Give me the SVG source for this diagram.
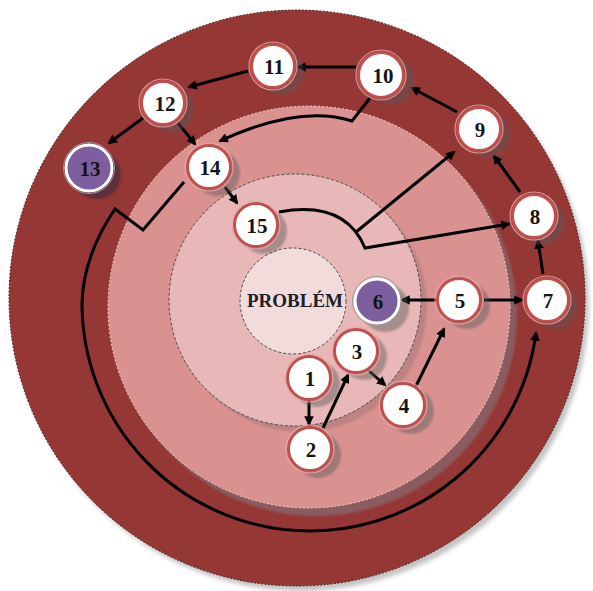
<svg xmlns="http://www.w3.org/2000/svg" width="593" height="591" viewBox="0 0 593 591">
<style>
.shadow{fill:#5a5a5a;opacity:.45}
.body{fill:#ffffff;stroke:#c0504d;stroke-width:3}
.glow{fill:none;stroke:#e9a9a7;stroke-width:1.2;opacity:.8}
.pbody{fill:#7d5fa0;stroke:#ffffff;stroke-width:3}
.pglow{fill:none;stroke:#9a9a9a;stroke-width:1}
.num{font-family:"Liberation Serif","Times New Roman",serif;font-weight:bold;font-size:21px;text-anchor:middle;fill:#141414}
.conn{stroke:#000;stroke-width:3;fill:none;stroke-linejoin:miter}
.arr{marker-end:url(#ah)}
</style>
<defs>
<marker id="ah" viewBox="0 0 10 10" refX="8" refY="5" markerWidth="3.4" markerHeight="3.2" orient="auto" markerUnits="strokeWidth">
<path d="M0,0 L10,5 L0,10 z" fill="#000"/>
</marker>
<filter id="soft" x="-20%" y="-20%" width="140%" height="140%"><feGaussianBlur stdDeviation="2"/></filter>
<filter id="soft2" x="-20%" y="-20%" width="140%" height="140%"><feGaussianBlur stdDeviation="1.2"/></filter>
</defs>

<g id="background">
<circle cx="301" cy="303" r="288" fill="#c4c4c4" filter="url(#soft)"/>
<circle cx="297" cy="298" r="288" fill="#953735" stroke="#4a1c1b" stroke-width="1" stroke-dasharray="2 1.5"/>
<circle cx="316" cy="315" r="201" fill="#8a5c5e" filter="url(#soft2)"/>
<circle cx="309" cy="307" r="201" fill="#d99290" stroke="#f3cfcf" stroke-width="1" stroke-dasharray="2 2"/>
<circle cx="301" cy="306" r="126" fill="#a77678" opacity=".55" filter="url(#soft2)"/>
<circle cx="295" cy="300" r="126" fill="#e8b7b7" stroke="#4d4d4d" stroke-width="1" stroke-dasharray="3 2"/>
<circle cx="293" cy="301" r="53" fill="#f2dbdb" stroke="#4d4d4d" stroke-width="1" stroke-dasharray="3 2"/>
<text x="295" y="307" font-family="'Liberation Serif','Times New Roman',serif" font-weight="bold" font-size="19" text-anchor="middle" fill="#1e1e28">PROBLÉM</text>
</g>

<g id="connectors">
<path class="conn arr" d="M309,401 L309,424"/>
<path class="conn arr" d="M323,428 L348,375"/>
<path class="conn arr" d="M368,370 L385,385"/>
<path class="conn arr" d="M416,386 L444,329"/>
<path class="conn arr" d="M436,300 L402,300"/>
<path class="conn arr" d="M484,300 L522,300"/>
<path class="conn arr" d="M543,274 L538,241"/>
<path class="conn arr" d="M520,192 L494,156"/>
<path class="conn arr" d="M457,112 L412,88"/>
<path class="conn arr" d="M356,67 L298,67"/>
<path class="conn arr" d="M248,71 L189,87"/>
<path class="conn arr" d="M143,118 L109,143"/>
<path class="conn arr" d="M178,123 L195,144"/>
<path class="conn arr" d="M225,187 L237,203"/>
<path class="conn arr" d="M370,98 L352,121 Q300,104 220,141"/>
<path class="conn arr" d="M184,182 L143,230 L115,209 C97,235 82,270 82,305 A228,228 0 0 0 536,333"/>
<path class="conn arr" d="M279,212 Q345,200 365,248 L509,224"/>
<path class="conn arr" d="M356,232 L454,152"/>
</g>

<g id="node1"><circle class="shadow" cx="317" cy="384" r="23" filter="url(#soft2)"/><circle class="body" cx="309" cy="378" r="21.5"/><circle class="glow" cx="309" cy="378" r="24"/><text class="num" x="310" y="386">1</text></g>
<g id="node2"><circle class="shadow" cx="318" cy="455" r="23" filter="url(#soft2)"/><circle class="body" cx="310" cy="449" r="21.5"/><circle class="glow" cx="310" cy="449" r="24"/><text class="num" x="311" y="457">2</text></g>
<g id="node3"><circle class="shadow" cx="364" cy="357" r="23" filter="url(#soft2)"/><circle class="body" cx="356" cy="351" r="21.5"/><circle class="glow" cx="356" cy="351" r="24"/><text class="num" x="357" y="359">3</text></g>
<g id="node4"><circle class="shadow" cx="411" cy="411" r="23" filter="url(#soft2)"/><circle class="body" cx="403" cy="405" r="21.5"/><circle class="glow" cx="403" cy="405" r="24"/><text class="num" x="404" y="413">4</text></g>
<g id="node5"><circle class="shadow" cx="467" cy="306" r="23" filter="url(#soft2)"/><circle class="body" cx="459" cy="300" r="21.5"/><circle class="glow" cx="459" cy="300" r="24"/><text class="num" x="460" y="308">5</text></g>
<g id="node6"><circle class="shadow" cx="385" cy="308" r="24" filter="url(#soft2)"/><circle class="pbody" cx="377" cy="301" r="22"/><circle class="pglow" cx="377" cy="301" r="24.5"/><text class="num" x="378" y="309">6</text></g>
<g id="node7"><circle class="shadow" cx="555" cy="306" r="23" filter="url(#soft2)"/><circle class="body" cx="547" cy="300" r="21.5"/><circle class="glow" cx="547" cy="300" r="24"/><text class="num" x="548" y="308">7</text></g>
<g id="node8"><circle class="shadow" cx="542" cy="222" r="23" filter="url(#soft2)"/><circle class="body" cx="534" cy="216" r="21.5"/><circle class="glow" cx="534" cy="216" r="24"/><text class="num" x="535" y="224">8</text></g>
<g id="node9"><circle class="shadow" cx="487" cy="135" r="23" filter="url(#soft2)"/><circle class="body" cx="479" cy="129" r="21.5"/><circle class="glow" cx="479" cy="129" r="24"/><text class="num" x="480" y="137">9</text></g>
<g id="node10"><circle class="shadow" cx="391" cy="81" r="24" filter="url(#soft2)"/><circle class="body" cx="381" cy="75" r="22.5"/><circle class="glow" cx="381" cy="75" r="25"/><text class="num" x="383" y="83">10</text></g>
<g id="node11"><circle class="shadow" cx="281" cy="72" r="23" filter="url(#soft2)"/><circle class="body" cx="273" cy="66" r="21.5"/><circle class="glow" cx="273" cy="66" r="24"/><text class="num" x="274" y="74">11</text></g>
<g id="node12"><circle class="shadow" cx="171" cy="109" r="23" filter="url(#soft2)"/><circle class="body" cx="163" cy="103" r="21.5"/><circle class="glow" cx="163" cy="103" r="24"/><text class="num" x="165" y="111">12</text></g>
<g id="node13"><circle fill="#4e2c40" opacity=".75" cx="97" cy="175" r="24" filter="url(#soft2)"/><circle class="pbody" cx="89" cy="168" r="23"/><circle class="pglow" cx="89" cy="168" r="25.5"/><text class="num" x="90" y="176">13</text></g>
<g id="node14"><circle class="shadow" cx="217" cy="173" r="23" filter="url(#soft2)"/><circle class="body" cx="209" cy="167" r="21.5"/><circle class="glow" cx="209" cy="167" r="24"/><text class="num" x="210" y="175">14</text></g>
<g id="node15"><circle class="shadow" cx="264" cy="231" r="23" filter="url(#soft2)"/><circle class="body" cx="256" cy="225" r="21.5"/><circle class="glow" cx="256" cy="225" r="24"/><text class="num" x="257" y="233">15</text></g>
</svg>
